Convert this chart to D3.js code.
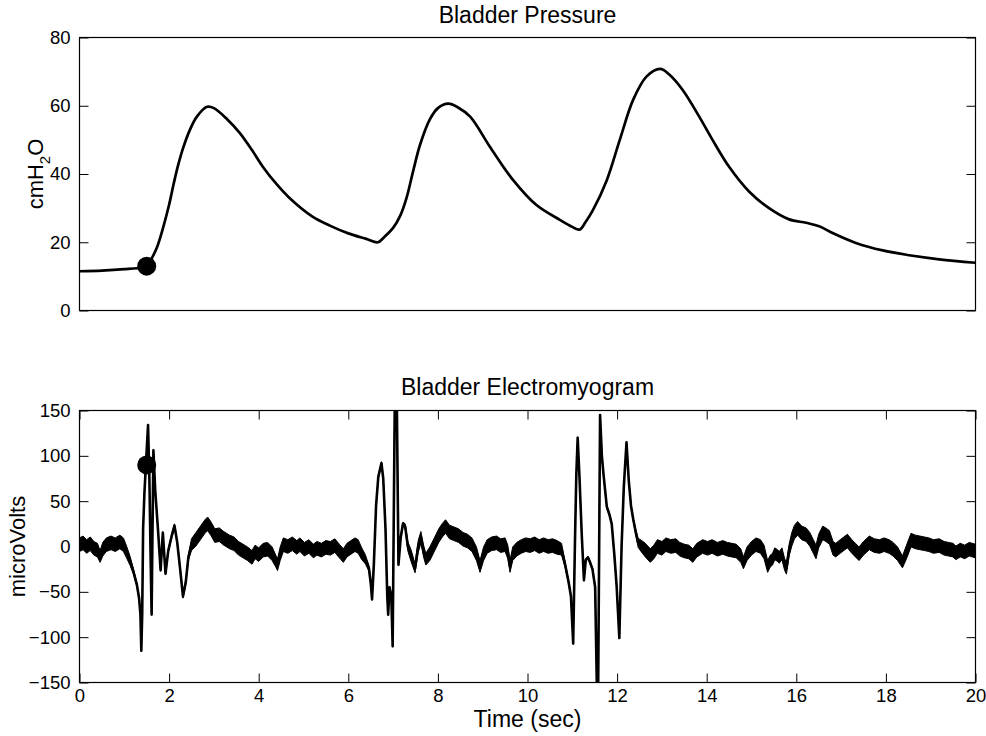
<!DOCTYPE html>
<html>
<head>
<meta charset="utf-8">
<script src="https://cdn.jsdelivr.net/npm/d3@7"></script>
<style>
  html, body { margin: 0; padding: 0; background: #fff; }
  svg { display: block; }
  text { font-family: "Liberation Sans", Arial, Helvetica, sans-serif; fill: #000; }
</style>
</head>
<body>
<svg id="chart" width="986" height="736"></svg>
<script>
// ---- Bladder pressure (cmH2O) over time (sec)
const pressureTime = [0, 0.5, 1.0, 1.4, 1.5, 1.6, 1.73, 1.85, 2.0, 2.1, 2.2, 2.31, 2.45, 2.62, 2.85,
  3.0, 3.3, 3.58, 3.85, 4.1, 4.4, 4.7, 5.2, 5.6, 6.0, 6.4, 6.66, 6.8, 7.0, 7.16, 7.3, 7.45, 7.6,
  7.82, 8.0, 8.23, 8.45, 8.72, 9.16, 9.68, 10.2, 10.73, 11.0, 11.16, 11.3, 11.46, 11.77, 12.06,
  12.36, 12.66, 12.96, 13.17, 13.46, 13.83, 14.13, 14.5, 14.95, 15.4, 15.84, 16.22, 16.51, 16.81,
  17.33, 17.93, 18.52, 19.19, 20];
const pressureValue = [11.5, 11.7, 12.1, 12.6, 13, 15, 18.5, 23.5, 31, 37, 42.5, 47.5, 52.5, 56.8, 59.7,
  59.3, 56, 52, 47, 42, 37, 32.8, 27.5, 24.8, 22.6, 21, 20, 21.5, 24.2, 27.8, 33, 41, 48.5,
  56, 59.3, 60.6, 59.5, 56.8, 48, 38.2, 30.9, 26.5, 24.5, 23.7, 26, 29.4, 38.2, 50,
  61.8, 68.6, 70.8, 69.1, 64.7, 56.9, 50, 42.1, 34.8, 29.9, 26.7, 25.7, 24.7, 22.7,
  19.8, 17.6, 16.2, 15, 14];

// ---- Bladder electromyogram (microVolts): time, trace centre, noise half-width
const emgTime = [0.00, 0.08, 0.16, 0.24, 0.32, 0.40, 0.46, 0.52, 0.60, 0.70, 0.80, 0.90, 0.98, 1.05,
  1.13, 1.20, 1.28, 1.33, 1.36, 1.38, 1.40, 1.42, 1.45, 1.48, 1.53, 1.56, 1.59, 1.61, 1.63, 1.65,
  1.69, 1.75, 1.81, 1.86, 1.92, 1.98, 2.05, 2.12, 2.18, 2.24, 2.31, 2.37, 2.43, 2.50, 2.60, 2.70,
  2.80, 2.86, 2.93, 3.02, 3.12, 3.22, 3.35, 3.45, 3.55, 3.65, 3.75, 3.85, 3.92, 4.00, 4.10, 4.20,
  4.30, 4.38, 4.42, 4.48, 4.55, 4.65, 4.75, 4.85, 4.92, 5.02, 5.12, 5.22, 5.30, 5.40, 5.50, 5.60,
  5.70, 5.80, 5.89, 5.97, 6.06, 6.15, 6.22, 6.30, 6.38, 6.46, 6.50, 6.53, 6.57, 6.62, 6.67, 6.74,
  6.78, 6.83, 6.87, 6.89, 6.92, 6.96, 6.99, 7.04, 7.08, 7.12, 7.17, 7.22, 7.27, 7.33, 7.40, 7.49,
  7.56, 7.62, 7.68, 7.73, 7.82, 7.92, 8.02, 8.10, 8.17, 8.26, 8.36, 8.46, 8.56, 8.66, 8.76, 8.86,
  8.94, 9.02, 9.10, 9.20, 9.31, 9.40, 9.50, 9.56, 9.61, 9.67, 9.76, 9.86, 9.96, 10.06, 10.16,
  10.26, 10.36, 10.46, 10.56, 10.66, 10.76, 10.84, 10.92, 10.97, 11.02, 11.06, 11.09, 11.12,
  11.16, 11.21, 11.26, 11.30, 11.35, 11.40, 11.45, 11.51, 11.555, 11.575, 11.62, 11.66, 11.70,
  11.77, 11.83, 11.88, 11.94, 11.99, 12.05, 12.10, 12.15, 12.21, 12.26, 12.31, 12.36, 12.42,
  12.47, 12.55, 12.63, 12.74, 12.82, 12.90, 13.00, 13.09, 13.20, 13.31, 13.40, 13.50, 13.60,
  13.69, 13.78, 13.91, 14.02, 14.12, 14.24, 14.36, 14.46, 14.56, 14.66, 14.76, 14.82, 14.90,
  15.00, 15.10, 15.20, 15.28, 15.36, 15.42, 15.47, 15.52, 15.58, 15.62, 15.68, 15.74, 15.78,
  15.84, 15.90, 15.96, 16.03, 16.12, 16.22, 16.30, 16.38, 16.44, 16.50, 16.59, 16.66, 16.74,
  16.82, 16.88, 16.98, 17.06, 17.14, 17.24, 17.32, 17.40, 17.50, 17.63, 17.74, 17.86, 17.96,
  18.07, 18.16, 18.26, 18.37, 18.46, 18.56, 18.66, 18.76, 18.86, 18.96, 19.06, 19.19, 19.30,
  19.40, 19.50, 19.56, 19.66, 19.76, 19.86, 20.00];
const emgValue = [2, 4, 0, 3, -2, -4, -11, -3, 2, 4, 2, 5, 2, -6,
  -16, -27, -42, -57, -75, -115, -74, 20, 60, 88, 134, 75, -20, -75, 20, 106,
  62, 20, -26, 15, -30, -5, 10, 23, 5, -22, -55, -40, -12, 2, 8, 15,
  22, 25, 20, 12, 13, 9, 5, 3, -2, -5, -8, -12, -6, -9, -4, -3,
  -8, -16, -20, -8, 2, 0, 3, -1, 2, -3, 0, -5, -2, -4, -1, -2,
  1, -5, -10, -4, -1, 2, 0, -8, -14, -24, -40, -58, -20, 45, 77, 92,
  75, 20, -55, -75, -45, -55, -110, 175, 175, -20, 10, 25, 22, 0, -10, -24,
  0, 10, -5, -14, -8, 2, 12, 18, 22, 16, 14, 12, 8, 6, 2, -8,
  -22, -8, 0, 3, 4, 1, 2, -6, -22, -8, -3, 0, 2, 1, 3,
  0, 2, 0, 1, -1, -3, -20, -40, -55, -107, 7, 80, 120,
  77, 14, -37, -15, -12, -18, -25, -45, -175, -175, 145, 100, 78,
  44, 35, 25, -10, -44, -101, 0, 66, 115, 73, 45, 30, 15,
  4, 0, -4, -10, -6, 0, -2, 2, 0, 1, -3, -5, -6,
  -10, -4, 0, -2, 0, -3, -1, -3, -4, -5, -10, -18, -8,
  -2, 2, 0, -6, -22, -16, -14, -8, -10, -12, -8, -20, -24,
  -4, 8, 16, 20, 15, 13, 8, 0, -6, 6, 15, 13, 10,
  -2, -4, 0, 3, 6, 0, -4, -8, -2, 4, 1, 0, 2,
  0, -3, -8, -17, -6, 7, 5, 4, 3, 2, 0, 1, -2,
  -3, -4, -7, -4, -6, -3, -5];
const emgNoise = [7.5, 7.5, 7.5, 7.5, 7.5, 7.5, 6.5, 7.5, 7.5, 7.5, 7.5, 7.5, 7.5, 6.5,
  5, 3, 2, 1.5, 1.2, 1, 1, 1, 1, 1, 1, 1, 1, 1, 1, 1,
  1, 1.5, 1.5, 1.5, 1.5, 2, 2, 2, 2, 2, 2, 2, 3, 6.5, 7.5, 7.5,
  7.5, 7.5, 7.5, 7.5, 7.5, 7.5, 7.5, 7.5, 7.5, 7.5, 7.5, 7.5, 7.5, 7.5, 7.5, 7.5,
  7.5, 6.5, 6.5, 7.5, 7.5, 7.5, 7.5, 7.5, 7.5, 7.5, 7.5, 7.5, 7.5, 7.5, 7.5, 7.5,
  7.5, 7.5, 7.5, 7.5, 7.5, 7.5, 7.5, 6.5, 5, 3, 2, 1.5, 1.5, 1.5, 1.5, 1.5,
  1.5, 1.5, 1.5, 1.5, 1.5, 1.5, 1, 1, 1, 1.5, 2, 2, 3, 5, 6.5, 5,
  6.5, 6.5, 6.5, 6.5, 7.5, 7.5, 7.5, 7.5, 7.5, 7.5, 7.5, 7.5, 7.5, 7.5, 7.5, 7.5,
  6.5, 7.5, 7.5, 7.5, 7.5, 7.5, 7.5, 7.5, 6.5, 7.5, 7.5, 7.5, 7.5, 7.5, 7.5,
  7.5, 7.5, 7.5, 7.5, 7.5, 6.5, 3, 2, 1.5, 1, 1, 1, 1,
  1, 1.5, 1.5, 1.5, 1.5, 1.5, 1.5, 1.5, 1, 1, 1, 1, 1.5,
  1.5, 1.5, 1.5, 1.5, 1.5, 1, 1, 1, 1, 1.5, 1.5, 2, 3,
  5, 6.5, 7.5, 7.5, 7.5, 7.5, 7.5, 7.5, 7.5, 7.5, 7.5, 7.5, 7.5,
  7.5, 7.5, 7.5, 7.5, 7.5, 7.5, 7.5, 7.5, 7.5, 7.5, 7.5, 6.5, 7.5,
  7.5, 7.5, 7.5, 7.5, 6.5, 6.5, 6.5, 6.5, 6.5, 6.5, 6.5, 6.5, 6.5,
  6.5, 7.5, 7.5, 7.5, 7.5, 7.5, 7.5, 7.5, 7.5, 7.5, 7.5, 7.5, 7.5,
  7.5, 7.5, 7.5, 7.5, 7.5, 7.5, 7.5, 7.5, 7.5, 7.5, 7.5, 7.5, 7.5,
  7.5, 7.5, 7.5, 6.5, 7.5, 7.5, 7.5, 7.5, 7.5, 7.5, 7.5, 7.5, 7.5,
  7.5, 7.5, 7.5, 7.5, 7.5, 7.5, 7.5];

// ---- Marker placed at the onset of the first contraction
const markerTime = 1.5;
const markerPressure = 13;
const markerEmg = 90;

// ---- Axis ticks and labels
const timeTicks = [0, 2, 4, 6, 8, 10, 12, 14, 16, 18, 20];
const pressureTicks = [0, 20, 40, 60, 80];
const emgTicks = [-150, -100, -50, 0, 50, 100, 150];
const titles = ["Bladder Pressure", "Bladder Electromyogram"];
const xLabel = "Time (sec)";
const emgYLabel = "microVolts";

// ---------------------------------------------------------------
const svg = d3.select("#chart");
const tickFont = "18.5px";
const labelFont = "23px";

const left = 79.5, right = 975.5;
const x = d3.scaleLinear().domain([0, 20]).range([left, right]);
const yP = d3.scaleLinear().domain([0, 80]).range([310.5, 37.5]);
const yE = d3.scaleLinear().domain([-150, 150]).range([682.5, 410.5]);

const pressure = pressureTime.map((t, i) => ({ t, v: pressureValue[i] }));
const emg = emgTime.map((t, i) => ({ t, v: emgValue[i], n: emgNoise[i] }));

function panel(id, yScale, yTicks, showXTicks) {
  const [y0, y1] = yScale.range();
  const g = svg.append("g").attr("id", id);
  g.append("clipPath").attr("id", id + "-clip")
    .append("rect").attr("x", left).attr("y", y1)
    .attr("width", right - left).attr("height", y0 - y1);

  const axL = d3.axisLeft(yScale).tickValues(yTicks).tickSizeInner(-9).tickSizeOuter(0).tickPadding(9);
  const axR = d3.axisRight(yScale).tickValues(yTicks).tickSizeInner(-9).tickSizeOuter(0).tickFormat("");
  g.append("g").attr("transform", `translate(${left},0)`).call(axL);
  g.append("g").attr("transform", `translate(${right},0)`).call(axR);
  if (showXTicks) {
    const axB = d3.axisBottom(x).tickValues(timeTicks).tickSizeInner(-9).tickSizeOuter(0).tickPadding(6.5);
    const axT = d3.axisTop(x).tickValues(timeTicks).tickSizeInner(-9).tickSizeOuter(0).tickFormat("");
    g.append("g").attr("transform", `translate(0,${y0})`).call(axB);
    g.append("g").attr("transform", `translate(0,${y1})`).call(axT);
  }
  g.selectAll(".domain").remove();
  g.selectAll(".tick line").attr("stroke", "#000").attr("stroke-width", 1);
  g.selectAll(".tick text").style("font-size", tickFont).attr("fill", "#000");

  g.append("rect").attr("x", left).attr("y", y1)
    .attr("width", right - left).attr("height", y0 - y1)
    .attr("fill", "none").attr("stroke", "#000").attr("stroke-width", 1.2);

  const plot = g.append("g").attr("clip-path", `url(#${id}-clip)`);
  return { g, plot, y0, y1 };
}

// Top panel: pressure trace
const pressurePanel = panel("pressure", yP, pressureTicks, false);
pressurePanel.plot.append("path")
  .datum(pressure)
  .attr("fill", "none")
  .attr("stroke", "#000")
  .attr("stroke-width", 2.7)
  .attr("stroke-linejoin", "round")
  .attr("d", d3.line().x(d => x(d.t)).y(d => yP(d.v)).curve(d3.curveCatmullRom.alpha(0.5)));
pressurePanel.plot.append("circle")
  .attr("cx", x(markerTime)).attr("cy", yP(markerPressure)).attr("r", 9.5).attr("fill", "#000");

// Bottom panel: EMG trace, noise band plus centre line
const emgPanel = panel("emg", yE, emgTicks, true);
emgPanel.plot.append("path")
  .datum(emg)
  .attr("fill", "#000")
  .attr("stroke", "#000")
  .attr("stroke-width", 1)
  .attr("stroke-linejoin", "round")
  .attr("d", d3.area().x(d => x(d.t)).y0(d => yE(d.v - d.n)).y1(d => yE(d.v + d.n)));
emgPanel.plot.append("path")
  .datum(emg)
  .attr("fill", "none")
  .attr("stroke", "#000")
  .attr("stroke-width", 2.6)
  .attr("stroke-linejoin", "round")
  .attr("d", d3.line().x(d => x(d.t)).y(d => yE(d.v)));
emgPanel.plot.append("circle")
  .attr("cx", x(markerTime)).attr("cy", yE(markerEmg)).attr("r", 9.5).attr("fill", "#000");

// Titles and axis labels
const cx = (left + right) / 2;
svg.append("text").attr("x", cx).attr("y", 23).attr("text-anchor", "middle")
  .style("font-size", labelFont).text(titles[0]);
svg.append("text").attr("x", cx).attr("y", 395).attr("text-anchor", "middle")
  .style("font-size", labelFont).text(titles[1]);
svg.append("text").attr("x", cx).attr("y", 727).attr("text-anchor", "middle")
  .style("font-size", labelFont).text(xLabel);

const yl1 = svg.append("text")
  .attr("transform", `translate(43,${(pressurePanel.y0 + pressurePanel.y1) / 2}) rotate(-90)`)
  .attr("text-anchor", "middle").style("font-size", "22px");
yl1.append("tspan").text("cmH");
yl1.append("tspan").attr("dy", 7).style("font-size", "15px").text("2");
yl1.append("tspan").attr("dy", -7).text("O");

svg.append("text")
  .attr("transform", `translate(25,${(emgPanel.y0 + emgPanel.y1) / 2}) rotate(-90)`)
  .attr("text-anchor", "middle").style("font-size", "22px").text(emgYLabel);
</script>
</body>
</html>
